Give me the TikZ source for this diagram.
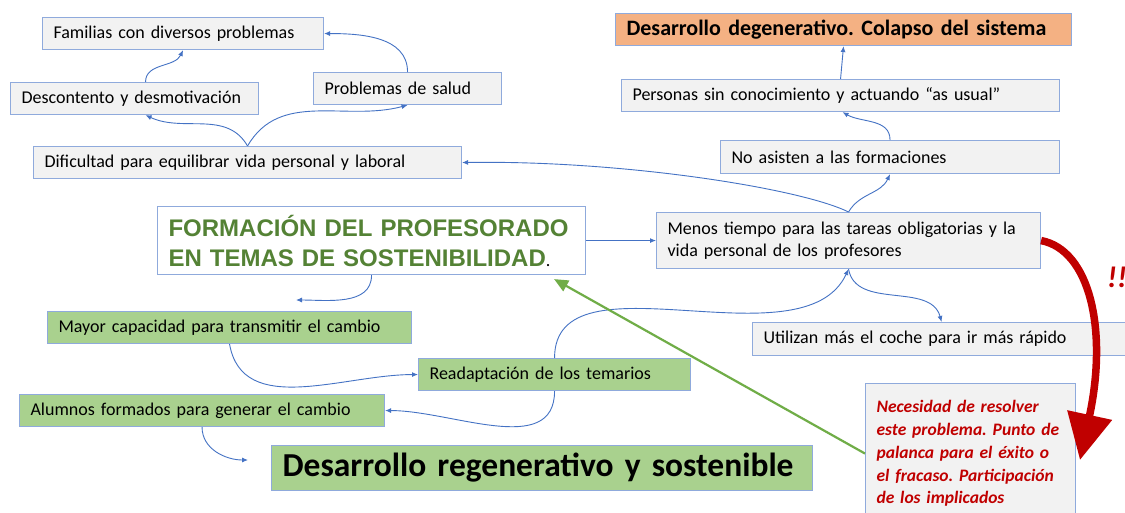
\documentclass[tikz,border=0pt]{standalone}
\usepackage{fontspec}
\setmainfont{Carlito}
\newfontfamily\headfont{Liberation Sans}
\usepackage{tikz}
\usetikzlibrary{arrows.meta}
\definecolor{boxline}{HTML}{8FAADC}
\definecolor{boxfill}{HTML}{F2F2F2}
\definecolor{lnkblue}{HTML}{4472C4}
\definecolor{grnfill}{HTML}{A9D18E}
\definecolor{grntext}{HTML}{548235}
\definecolor{grnline}{HTML}{70AD47}
\definecolor{orgfill}{HTML}{F4B183}
\definecolor{alarm}{HTML}{C00000}
\frenchspacing

\begin{document}
\begin{tikzpicture}[x=1pt,y=-1pt,font=\fontsize{18}{22}\selectfont,
box/.style n args={3}{draw=boxline,fill=#1,line width=1.1pt,anchor=north west,inner xsep=11pt,inner ysep=0pt,align=left,text width=#2,minimum height=#3},
lnk/.style={draw=lnkblue,line width=0.9pt,-{Latex[length=6pt,width=5pt]}}]
\useasboundingbox[fill=white] (0,0) rectangle (1125,512);
% upper left chain
\node[box={boxfill}{259pt}{32pt}] (fam) at (42,17) {Familias con diversos problemas};
\node[box={boxfill}{226pt}{32pt}] (desc) at (10,82) {Descontento y desmotivación};
\node[box={boxfill}{166pt}{32pt}] (salud) at (313,72) {Problemas de salud};
\node[box={boxfill}{406pt}{32pt}] (dif) at (33,146) {Dificultad para equilibrar vida personal y laboral};
% upper right chain
\node[box={orgfill}{434pt}{32pt},font=\fontsize{22}{26}\selectfont\bfseries] (degen) at (615,13) {Desarrollo degenerativo. Colapso del sistema};
\node[box={boxfill}{416pt}{32pt}] (pers) at (621,79) {Personas sin conocimiento y actuando “as usual”};
\node[box={boxfill}{317pt}{33pt}] (asist) at (720,140) {No asisten a las formaciones};
% middle
\node[box={white}{406pt}{68pt},font=\headfont\fontsize{24}{30}\selectfont\bfseries\color{grntext}] (form) at (157,206)
   {FORMACIÓN DEL PROFESORADO\\EN TEMAS DE SOSTENIBILIDAD{\normalfont\fontsize{18}{22}\selectfont\color{black}.}};
\node[box={boxfill}{362pt}{56pt}] (menos) at (656,212) {Menos tiempo para las tareas obligatorias y la\\vida personal de los profesores};
\node[box={boxfill}{356pt}{33pt}] (utl) at (752,322) {Utilizan más el coche para ir más rápido};
% lower chain
\node[box={grnfill}{342pt}{32pt}] (mayor) at (47,311) {Mayor capacidad para transmitir el cambio};
\node[box={grnfill}{250pt}{32pt}] (read) at (418,358) {Readaptación de los temarios};
\node[box={grnfill}{343pt}{32pt}] (alum) at (19,394) {Alumnos formados para generar el cambio};
\node[box={grnfill}{519pt}{45pt},font=\fontsize{33.5}{38}\selectfont\bfseries] (regen) at (271,445) {Desarrollo regenerativo y sostenible};
\node[box={boxfill}{188pt}{140pt},font=\fontsize{17.5}{22.7}\selectfont\bfseries\itshape\color{alarm}] (nec) at (865,383)
   {Necesidad de resolver\\este problema. Punto de\\palanca para el éxito o\\el fracaso. Participación\\de los implicados};
\node[font=\fontsize{30}{34}\selectfont\bfseries\itshape,text=alarm] (alert) at (1117,277) {!!};
\coordinate (formgap) at (296,300);
\coordinate (regengap) at (248,460);
\coordinate (formhit) at ([xshift=-32pt,yshift=-4pt]form.south east);

\draw[lnk] ([xshift=11pt]desc.north) to[out=90,in=-115] (fam.south);
\draw[lnk] (salud.north) to[out=90,in=0] (fam.east);
\draw[lnk] (dif.north) to[out=120,in=-25] ([xshift=11pt]desc.south);
\draw[lnk] (dif.north) to[out=60,in=-165] (salud.south);
\draw[lnk] (menos.north) .. controls (800,188) and (620,160) .. (dif.east);
\draw[lnk] (menos.north) to[out=60,in=-115] (asist.south);
\draw[lnk] (asist.north) to[out=90,in=-30] ([xshift=2pt]pers.south);
\draw[lnk] (pers.north) -- (degen.south);
\draw[lnk] (form.east) -- (menos.west);
\draw[lnk] (form.south) to[out=-90,in=0] (formgap);
\draw[lnk] (mayor.south) to[out=-80,in=180] (read.west);
\draw[lnk] (read.north) to[out=90,in=-115,looseness=0.9] (menos.south);
\draw[lnk] (menos.south) to[out=-80,in=105] (utl.north);
\draw[lnk] (read.south) to[out=-90,in=0] (alum.east);
\draw[lnk] (alum.south) to[out=-90,in=180] (regengap);
% leverage arrows
\draw[grnline,line width=2.2pt,-{Triangle[length=14pt,width=12pt]}] (nec.west) -- (formhit);
\draw[alarm,line width=7.5pt,-{Triangle[length=46pt,width=44pt]}] (menos.east) .. controls (1090,250) and (1108,330) .. (1080,460);
\end{tikzpicture}
\end{document}
